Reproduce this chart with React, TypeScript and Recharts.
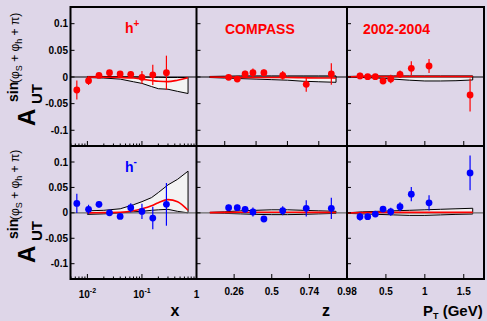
import React from 'react';
import { ComposedChart, Area, Line, Scatter, XAxis, YAxis, ReferenceLine, ErrorBar } from 'recharts';

const W = 487;
const H = 321;
const FONT = '"Liberation Sans", Arial, Helvetica, sans-serif';
const RED = '#ff0000';
const BLUE = '#0000ff';
const BG = '#ded6e8';
const BAND_FILL = '#f3f3f3';

// ---------- x (Bjorken) ----------
const xBins = [0.0064, 0.0105, 0.0163, 0.0254, 0.0398, 0.0623, 0.1, 0.158, 0.281];
const xHpVal = [-0.0244, -0.007, 0.003, 0.008, 0.0056, 0.005, -0.0006, 0.004, 0.008];
const xHpErr = [0.018, 0.008, 0.004, 0.005, 0.005, 0.006, 0.012, 0.019, 0.032];
const xHmVal = [0.0185, 0.0069, 0.0167, 0.0, -0.0071, 0.01, 0.0028, -0.0102, 0.0167];
const xHmErr = [0.019, 0.009, 0.006, 0.005, 0.005, 0.009, 0.015, 0.022, 0.042];

const xBandGrid = [0.01, 0.02, 0.04, 0.07, 0.1, 0.15, 0.2, 0.3, 0.45, 0.7];
const xHpBandLo = [-0.001, -0.002, -0.004, -0.009, -0.012, -0.018, -0.022, -0.023, -0.027, -0.031];
const xHpBandHi = [0.001, 0.001, 0.0005, 0, 0, -0.0005, -0.0005, -0.001, -0.001, -0.001];
const xHpFit = [0, -0.0005, -0.001, -0.002, -0.004, -0.0065, -0.008, -0.0088, -0.006, -0.0015];
const xHmBandLo = [-0.003, -0.002, 0, 0.002, 0.003, 0.005, 0.006, 0.007, 0.003, 0.0];
const xHmBandHi = [0.004, 0.005, 0.008, 0.016, 0.022, 0.03, 0.04, 0.055, 0.066, 0.082];
const xHmFit = [0, 0.0005, 0.001, 0.004, 0.008, 0.014, 0.02, 0.026, 0.022, 0.005];

// ---------- z ----------
const zBins = [0.225, 0.28, 0.33, 0.38, 0.45, 0.57, 0.72, 0.88];
const zHpVal = [-0.0006, -0.004, 0.0056, 0.008, 0.008, 0.003, -0.0138, 0.0056];
const zHpErr = [0.005, 0.005, 0.006, 0.008, 0.006, 0.008, 0.014, 0.02];
const zHmVal = [0.0101, 0.0101, 0.007, 0.0017, -0.0121, 0.0042, 0.0089, 0.0089];
const zHmErr = [0.006, 0.006, 0.006, 0.009, 0.006, 0.009, 0.016, 0.021];

const zBandGrid = [0.105, 0.2, 0.3, 0.4, 0.5, 0.6, 0.7, 0.8, 0.91];
const zHpBandLo = [-0.001, -0.002, -0.003, -0.004, -0.005, -0.006, -0.008, -0.009, -0.01];
const zHpBandHi = [0.001, 0.0015, 0.002, 0.002, 0.002, 0.002, 0.002, 0.002, 0.002];
const zHpFit = [0, -0.0005, -0.001, -0.001, -0.001, -0.001, -0.0015, -0.002, -0.002];
const zHmBandLo = [0, -0.001, -0.002, -0.003, -0.0035, -0.0035, -0.003, -0.002, -0.001];
const zHmBandHi = [0.001, 0.002, 0.004, 0.005, 0.006, 0.006, 0.005, 0.004, 0.003];
const zHmFit = [0.0005, 0.001, 0.0012, 0.0012, 0.0012, 0.0012, 0.001, 0.001, 0.0008];

// ---------- P_T ----------
const ptBins = [0.167, 0.266, 0.364, 0.463, 0.562, 0.681, 0.826, 1.054, 1.581];
const ptHpVal = [0.0019, 0.0006, 0.0006, -0.0075, -0.0038, 0.005, 0.0163, 0.0206, -0.0338];
const ptHpErr = [0.006, 0.005, 0.005, 0.005, 0.008, 0.007, 0.013, 0.013, 0.031];
const ptHmVal = [-0.0076, -0.0076, -0.0023, 0.0075, 0.0022, 0.012, 0.0368, 0.0198, 0.0786];
const ptHmErr = [0.008, 0.006, 0.006, 0.006, 0.008, 0.009, 0.014, 0.015, 0.034];

const ptBandGrid = [0, 0.2, 0.4, 0.6, 0.8, 1.0, 1.2, 1.4, 1.615];
const ptHpBandLo = [0, -0.001, -0.002, -0.004, -0.006, -0.0075, -0.0075, -0.007, -0.0056];
const ptHpBandHi = [0.001, 0.0015, 0.002, 0.002, 0.002, 0.002, 0.002, 0.002, 0.002];
const ptHpFit = [0.0005, 0.001, 0.001, 0.001, 0.001, 0.001, 0.001, 0.001, 0.001];
const ptHmBandLo = [-0.001, -0.002, -0.003, -0.004, -0.005, -0.005, -0.004, -0.003, -0.0023];
const ptHmBandHi = [0.0, 0.002, 0.003, 0.004, 0.005, 0.006, 0.007, 0.008, 0.009];
const ptHmFit = [0.0, 0.0005, 0.001, 0.001, 0.001, 0.001, 0.001, 0.001, 0.001];

// ---------- ticks ----------
const yTicks = [-0.1, -0.05, 0, 0.05, 0.1];
const xLogTicks = [0.005, 0.006, 0.007, 0.008, 0.009, 0.01, 0.02, 0.03, 0.04, 0.05, 0.06, 0.07, 0.08, 0.09, 0.1, 0.2, 0.3, 0.4, 0.5, 0.6, 0.7, 0.8, 0.9, 1];
const xLogMajor = [0.01, 0.1, 1];
const xLogLabels: Record<string, [string, string]> = { '0.01': ['10', '-2'], '0.1': ['10', '-1'], '1': ['1', ''] };
const zTicksTop = [0.2, 0.4, 0.6, 0.8];
const zTicksBottom = [0.26, 0.5, 0.74, 0.98];
const ptTicks = [0.5, 1, 1.5];

const mkBand = (g: number[], lo: number[], hi: number[], fit: number[]) =>
  g.map((x, i) => ({ x, band: [lo[i], hi[i]] as [number, number], fit: fit[i] }));
const mkPts = (b: number[], v: number[], e: number[]) => b.map((x, i) => ({ x, y: v[i], err: e[i] }));

const COLS = [
  { l: 70.5, r: 196.5, domain: [0.0049, 1] as [number, number], log: true },
  { l: 196.5, r: 347, domain: [0.02, 0.98] as [number, number], log: false },
  { l: 347, r: 484, domain: [0, 1.76] as [number, number], log: false },
];
const ROWS = [
  { t: 7, b: 146, domain: [-0.1295, 0.1313] as [number, number], zero: '#000000' },
  { t: 146, b: 279, domain: [-0.1301, 0.1315] as [number, number], zero: '#6a6a6a' },
];

type PanelProps = {
  col: number;
  row: number;
  band: { x: number; band: [number, number]; fit: number }[];
  points: { x: number; y: number; err: number }[];
  color: string;
  xTicks: number[];
  major: number[];
  labelKind: 'none' | 'log' | 'plain';
  yLabels: boolean;
};

const Panel = ({ col, row, band, points, color, xTicks, major, labelKind, yLabels }: PanelProps) => {
  const C = COLS[col];
  const R = ROWS[row];
  const first = band[0];
  const last = band[band.length - 1];
  const xTick = (p: any) => {
    const v = p.payload.value;
    const isMajor = major.some((m) => Math.abs(m - v) < 1e-9);
    const len = isMajor ? 5 : 2.5;
    let label: React.ReactNode = null;
    if (labelKind === 'log') {
      const key = String(v);
      const lab = xLogLabels[key];
      if (lab) {
        label = (
          <text x={p.x} y={p.y + 18.5} textAnchor="middle" fontFamily={FONT} fontWeight="bold" fontSize={10} fill="#000">
            {lab[0]}
            {lab[1] ? <tspan fontSize={7} dy={-5}>{lab[1]}</tspan> : null}
          </text>
        );
      }
    } else if (labelKind === 'plain') {
      label = (
        <text x={p.x} y={p.y + 15.5} textAnchor="middle" fontFamily={FONT} fontWeight="bold" fontSize={10} fill="#000">
          {String(v)}
        </text>
      );
    }
    return (
      <g>
        <line x1={p.x} y1={p.y} x2={p.x} y2={p.y - len} stroke="#000" strokeWidth={1} />
        {label}
      </g>
    );
  };
  const yTick = (p: any) => (
    <g>
      <line x1={p.x} y1={p.y} x2={p.x + 4} y2={p.y} stroke="#000" strokeWidth={1} />
      {yLabels ? (
        <text x={p.x - 2.5} y={p.y} dy="0.36em" textAnchor="end" fontFamily={FONT} fontWeight="bold" fontSize={10} fill="#000">
          {String(p.payload.value)}
        </text>
      ) : null}
    </g>
  );
  return (
    <div style={{ position: 'absolute', left: 0, top: 0, width: W, height: H }}>
      <ComposedChart
        width={W}
        height={H}
        data={band}
        margin={{ top: R.t, bottom: H - R.b - 1, left: C.l - 1, right: W - C.r }}
      >
        <XAxis
          dataKey="x"
          type="number"
          scale={C.log ? 'log' : 'linear'}
          domain={C.domain}
          allowDataOverflow
          ticks={xTicks}
          interval={0}
          height={1}
          tickSize={0}
          tickMargin={0}
          axisLine={false}
          tickLine={false}
          tick={xTick}
        />
        <YAxis
          type="number"
          domain={R.domain}
          allowDataOverflow
          ticks={yTicks}
          interval={0}
          width={1}
          tickSize={0}
          tickMargin={0}
          axisLine={false}
          tickLine={false}
          tick={yTick}
        />
        <Area
          dataKey="band"
          type="linear"
          stroke="#000"
          strokeWidth={1}
          fill={BAND_FILL}
          fillOpacity={1}
          isAnimationActive={false}
        />
        <ReferenceLine
          segment={[{ x: last.x, y: last.band[0] }, { x: last.x, y: last.band[1] }]}
          stroke="#000"
          strokeWidth={1}
        />
        <ReferenceLine
          segment={[{ x: first.x, y: first.band[0] }, { x: first.x, y: first.band[1] }]}
          stroke="#000"
          strokeWidth={1}
        />
        <ReferenceLine y={0} stroke={R.zero} strokeWidth={1.2} />
        <Line dataKey="fit" type="monotone" stroke={RED} strokeWidth={1.6} dot={false} isAnimationActive={false} />
        <Scatter
          data={points}
          dataKey="y"
          fill={color}
          isAnimationActive={false}
          shape={(s: any) => <circle cx={s.cx} cy={s.cy} r={3.4} fill={color} />}
        >
          <ErrorBar dataKey="err" direction="y" width={0} stroke={color} strokeWidth={1.2} />
        </Scatter>
      </ComposedChart>
    </div>
  );
};

const YTitle = ({ dy }: { dy: number }) => (
  <g fontFamily={FONT} fill="#000">
    <text transform={`translate(35,${126 + dy}) rotate(-90)`} fontSize={24} fontWeight="bold">A</text>
    <text transform={`translate(41.5,${104 + dy}) rotate(-90)`} fontSize={15} fontWeight="bold">UT</text>
    <text transform={`translate(18,${102 + dy}) rotate(-90)`} fontSize={14} fontWeight="bold">sin</text>
    <text transform={`translate(19,${83 + dy}) rotate(-90)`} fontSize={12}>
      (φ<tspan fontSize={9} dy={3}>S</tspan>
      <tspan dy={-3}> + φ</tspan>
      <tspan fontSize={9} dy={3}>h</tspan>
      <tspan dy={-3}> + π)</tspan>
    </text>
  </g>
);

export default function App() {
  return (
    <div style={{ position: 'absolute', left: 0, top: 0, width: W, height: H, background: BG, overflow: 'hidden' }}>
      <Panel col={0} row={0} band={mkBand(xBandGrid, xHpBandLo, xHpBandHi, xHpFit)} points={mkPts(xBins, xHpVal, xHpErr)} color={RED} xTicks={xLogTicks} major={xLogMajor} labelKind="none" yLabels />
      <Panel col={1} row={0} band={mkBand(zBandGrid, zHpBandLo, zHpBandHi, zHpFit)} points={mkPts(zBins, zHpVal, zHpErr)} color={RED} xTicks={zTicksTop} major={zTicksTop} labelKind="none" yLabels={false} />
      <Panel col={2} row={0} band={mkBand(ptBandGrid, ptHpBandLo, ptHpBandHi, ptHpFit)} points={mkPts(ptBins, ptHpVal, ptHpErr)} color={RED} xTicks={ptTicks} major={ptTicks} labelKind="none" yLabels={false} />
      <Panel col={0} row={1} band={mkBand(xBandGrid, xHmBandLo, xHmBandHi, xHmFit)} points={mkPts(xBins, xHmVal, xHmErr)} color={BLUE} xTicks={xLogTicks} major={xLogMajor} labelKind="log" yLabels />
      <Panel col={1} row={1} band={mkBand(zBandGrid, zHmBandLo, zHmBandHi, zHmFit)} points={mkPts(zBins, zHmVal, zHmErr)} color={BLUE} xTicks={zTicksBottom} major={zTicksBottom} labelKind="plain" yLabels={false} />
      <Panel col={2} row={1} band={mkBand(ptBandGrid, ptHmBandLo, ptHmBandHi, ptHmFit)} points={mkPts(ptBins, ptHmVal, ptHmErr)} color={BLUE} xTicks={ptTicks} major={ptTicks} labelKind="plain" yLabels={false} />
      <svg width={W} height={H} style={{ position: 'absolute', left: 0, top: 0 }}>
        <rect x={70.5} y={7} width={484 - 70.5} height={279 - 7} fill="none" stroke="#000" strokeWidth={2} />
        <line x1={196.5} y1={7} x2={196.5} y2={279} stroke="#000" strokeWidth={2} />
        <line x1={347} y1={7} x2={347} y2={279} stroke="#000" strokeWidth={2} />
        <line x1={70.5} y1={146} x2={484} y2={146} stroke="#000" strokeWidth={2} />
        <YTitle dy={0} />
        <YTitle dy={137} />
        <g fontFamily={FONT} fontWeight="bold">
          <text x={125} y={33} fontSize={14} fill={RED}>h<tspan fontSize={10} dy={-6}>+</tspan></text>
          <text x={225} y={34} fontSize={14} fill={RED}>COMPASS</text>
          <text x={363} y={34} fontSize={14} fill={RED}>2002-2004</text>
          <text x={125} y={171.5} fontSize={14} fill={BLUE}>h<tspan fontSize={10} dy={-7}>-</tspan></text>
          <text x={175} y={316} fontSize={16} textAnchor="middle" fill="#000">x</text>
          <text x={326} y={316} fontSize={16} textAnchor="middle" fill="#000">z</text>
          <text x={423} y={316} fontSize={15} fill="#000">P<tspan fontSize={9} dy={2.5}>T</tspan><tspan dy={-2.5}> (GeV)</tspan></text>
        </g>
      </svg>
    </div>
  );
}
